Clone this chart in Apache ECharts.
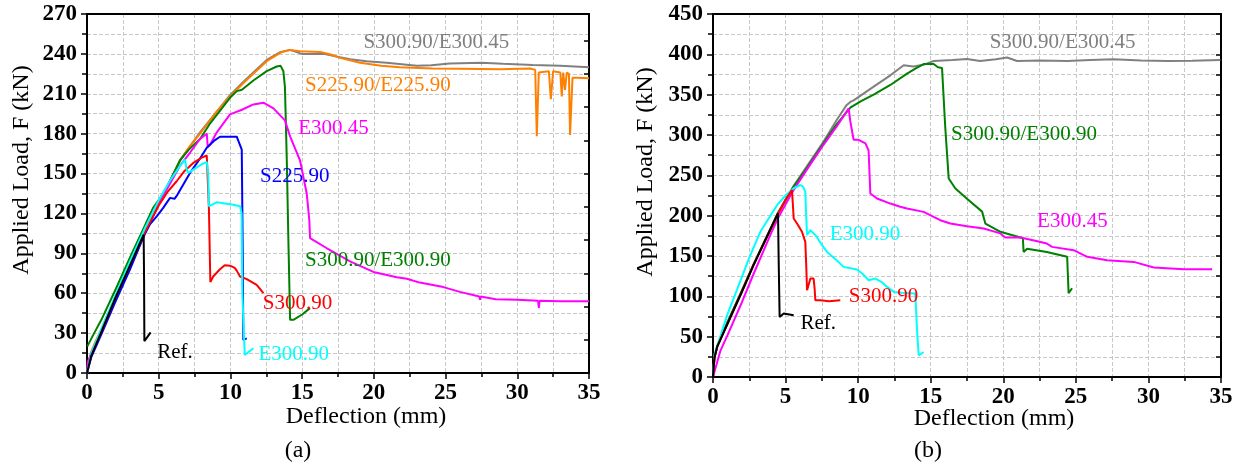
<!DOCTYPE html>
<html>
<head>
<meta charset="utf-8">
<script src="https://cdn.jsdelivr.net/npm/echarts@6/dist/echarts.min.js"></script>
<style>
html,body{margin:0;padding:0;background:#fff;}
#c{width:1242px;height:468px;}
</style>
</head>
<body>
<div id="c"></div>
<script>
// ---------- DATA: chart (a) ----------
var xTicks = [0, 5, 10, 15, 20, 25, 30, 35];
var aYTicks = [0, 30, 60, 90, 120, 150, 180, 210, 240, 270];
var bYTicks = [0, 50, 100, 150, 200, 250, 300, 350, 400, 450];

var aGray = [[0,0],[0.1,6],[0.3,14],[0.6,22],[1,31],[2,56],[3,80],[4,104],[5,127],[6.49,160],[7.88,181],[9.97,209],[11,220],[12.53,235.5],[13.5,241.5],[14.16,243],[14.97,240],[16.5,240],[17.64,237.5],[18.34,236],[19.5,234.5],[20.9,233.4],[22.99,231],[24,231.5],[25.3,232.7],[27.5,233.4],[29,232.5],[31.1,231.7],[33,231],[35,229.9]];
var aOrange = [[0,0],[0.1,8],[0.3,16],[0.6,24],[1,33],[2,58],[3,82],[4,106],[5,128],[5.5,138],[6.49,160],[7.2,171],[7.88,180],[9,196],[9.97,208],[11,219],[12.53,234.5],[13.5,241],[14.16,243],[14.85,242],[16.25,241.5],[17,239.5],[17.64,237],[19.04,233.4],[20.5,231],[21.8,230],[24.1,229],[26,228.8],[28.8,228.4],[30.9,229],[31.25,228],[31.36,178],[31.5,226],[32.2,227],[32.34,206],[32.5,227],[33,226],[33.1,208],[33.2,226],[33.33,213],[33.45,226],[33.6,225],[33.68,179],[33.85,222],[34.2,222],[35,221.6]];
var aGreen = [[0.02,20],[0.5,30],[1,40],[2,63],[3,87],[4,110],[4.6,124],[5,130],[5.5,138],[6.49,160],[7.1,168],[7.88,176],[8.6,188],[9.4,199],[9.97,207],[10.44,212],[10.8,213],[11.6,220],[12.53,227],[13.23,230.5],[13.5,231],[13.69,227],[13.8,215],[13.93,160],[14.04,100],[14.16,40],[14.39,40],[15,44],[15.55,48.8]];
var aMagenta = [[0,0],[0.05,8],[0.3,15],[1,31],[2,56],[3,80],[4,104],[4.86,124],[5.56,138],[6.49,156],[7.2,166],[7.88,176],[8.35,180],[8.42,170],[8.6,172],[9.05,181],[9.97,194.5],[10.8,198],[11.6,202],[12.3,203.3],[13,199],[13.8,190],[14.16,178],[14.85,160],[15.32,135],[15.5,115],[15.55,101.5],[16.7,94],[18.34,84],[19.97,76],[21.6,72],[22.3,70.9],[23.2,68],[24.85,64.6],[26,61],[27.35,57.5],[27.4,55],[27.45,57.5],[28.5,55.5],[29.97,55],[31.45,54.3],[31.5,49],[31.55,54.3],[33,54],[35,54]];
var aBlue = [[0,0],[0.3,12],[1,29],[2,54],[3,78],[4,104],[4.4,112],[4.86,117.8],[5.3,124],[5.79,131.7],[6.1,131],[6.3,134],[7.18,150.5],[7.8,160],[8.35,169.4],[8.9,175],[9.27,177.7],[10.44,177.7],[10.79,168],[10.85,100],[10.9,24.9],[11.14,26]];
var aRed = [[0,0],[0.3,14],[1,31],[2,57],[3,81],[4,105],[5,126],[5.6,136],[6.25,144.2],[6.8,152],[7.41,158],[8,162],[8.35,163.6],[8.45,163],[8.5,124],[8.6,68.4],[8.8,72.6],[9.27,78],[9.6,81],[9.97,80.7],[10.3,79],[10.44,77],[10.67,72.6],[11.14,70.6],[11.83,66.3],[12.3,60.1]];
var aCyan = [[0,0],[0.3,15],[1,33],[2,59],[3,84],[4,108],[5,130],[5.8,145],[6.5,156],[6.83,160.5],[6.95,153],[7.06,150.5],[7.41,153],[8,157],[8.35,158.8],[8.45,150],[8.5,125.4],[9.04,128.4],[10.2,126.6],[10.67,125.4],[10.78,120],[10.83,60],[11,13.6],[11.6,18.6]];
var aRef = [[0,0],[0.3,13],[1,31],[2,57],[3,81],[3.95,104],[3.98,70],[4,24],[4.44,30.5]];

// ---------- DATA: chart (b) ----------
var bGray = [[0,0],[0.1,24],[0.3,38],[1,68],[2,108],[2.8,140],[4.48,204],[5.56,237],[6.5,262],[7.62,292],[8.5,318],[9.2,337],[9.46,341],[9.69,343],[11.07,360],[12.22,374],[13.14,386.5],[13.8,385],[14.5,387],[15.2,391.7],[16.5,393],[17.5,394.2],[18.4,391.7],[19.5,394],[20.26,396],[20.95,391.7],[22.5,392.5],[24.4,391.7],[26,393],[27.6,393.8],[29.5,392.5],[31.3,391.7],[33,392],[34.96,392.9]];
var bGreen = [[0,0],[0.1,25],[0.3,39],[1,68],[2,107],[2.8,140],[4.48,203],[5.56,236],[6.5,260],[7.62,290],[8.5,313],[9.46,334],[10.2,342],[11.07,350],[12.22,362],[13.37,376],[14,383],[14.51,388],[15.2,388],[15.5,384],[15.78,383],[15.9,381],[16,310],[16.24,246],[16.7,233.7],[17.5,221],[18.54,205],[18.77,190],[19.8,180],[21.18,173],[21.35,172],[21.4,155],[21.64,159],[23,155],[24.4,149],[24.5,104],[24.74,110]];
var bMagenta = [[0,0],[0.5,32],[1,52],[2,93],[2.8,128],[4,178],[4.48,197],[5.56,232],[6.5,258],[7.5,285],[8.5,310],[9.35,333],[9.45,318],[9.69,294],[10.03,294],[10.5,289.6],[10.72,281],[10.84,227.5],[11.3,221.3],[12.22,215],[12.9,211],[13.37,209],[14.51,204.7],[15.2,198.5],[15.66,194.4],[16.35,190.3],[17.5,187],[18.65,184],[19.8,178],[20.14,173],[21.18,173],[22.2,169],[23,165.5],[23.36,161.3],[24.85,157.2],[25.78,149],[27.15,144.8],[28.99,142.7],[30.37,135.7],[32.43,133.6],[34.39,133.6]];
var bCyan = [[0,0],[0.1,28],[0.5,50],[1,78],[1.65,108],[2.5,148],[3.26,180],[4.41,213],[5,225],[5.56,234],[6.02,238],[6.2,236],[6.36,229.5],[6.42,200],[6.48,176],[6.71,182],[7.1,175],[7.51,163.4],[7.86,155],[8.5,145],[9,136.5],[9.92,133.2],[10.3,128],[10.72,120],[11.19,122],[11.6,118],[11.99,111.7],[12.45,105.5],[13,104.5],[13.94,103.5],[14.05,60],[14.17,26.9],[14.51,31]];
var bRed = [[0,0],[0.1,24],[0.3,38],[1,66],[2,106],[2.8,139],[4.48,202],[5,220],[5.44,231.6],[5.5,215],[5.56,196.5],[5.79,190.3],[6.13,180],[6.36,167.5],[6.42,140],[6.48,107.6],[6.71,122],[6.93,122],[7,110],[7.05,95.2],[7.39,95.2],[8,94],[8.77,95]];
var bRef = [[0,0],[0.1,24],[0.3,38],[1,66],[2,106],[2.8,139],[4.48,203],[4.52,150],[4.59,74.4],[4.87,78.6],[5.56,76.5]];

// curve labels: [text, x, y (data coords, left edge / vertical middle), colour key]
var aLabels = [["S300.90/E300.45",19.27,248.5,"gray"],["S225.90/E225.90",15.2,216.3,"orange"],["E300.45",14.73,183.7,"magenta"],["S225.90",12.06,148,"blue"],["S300.90/E300.90",15.2,84.4,"green"],["S300.90",12.25,52,"red"],["E300.90",11.95,14.3,"cyan"],["Ref.",4.9,15.6,"black"]];
var bLabels = [["S300.90/E300.45",19.06,414.4,"gray"],["S300.90/E300.90",16.4,300.7,"green"],["E300.45",22.33,192.3,"magenta"],["E300.90",8.04,177,"cyan"],["S300.90",9.35,99.3,"red"],["Ref.",6.02,66.3,"black"]];

var COL = {gray:"#808080", orange:"#FF8000", green:"#008000", magenta:"#FF00FF", blue:"#0000FF", red:"#FF0000", cyan:"#00FFFF", black:"#000000"};
var SERIF = "'Liberation Serif','Times New Roman',serif";

var chart = echarts.init(document.getElementById('c'), null, {renderer:'canvas'});

function mainX(gi){
  return {gridIndex:gi, type:'value', min:0, max:35, interval:5, position:'bottom',
    axisLine:{show:true, onZero:false, lineStyle:{color:'#000', width:2}},
    axisTick:{show:true, inside:false, length:6, lineStyle:{color:'#000', width:1.5}},
    minorTick:{show:true, splitNumber:2, length:4, lineStyle:{color:'#000', width:1.5}},
    axisLabel:{show:true, margin:9, color:'#000', fontFamily:SERIF, fontWeight:'bold', fontSize:23},
    splitLine:{show:true, lineStyle:{color:'#c8c8c8', type:[4,2], width:1}},
    minorSplitLine:{show:true, lineStyle:{color:'#c8c8c8', type:[4,2], width:1}}
  };
}
function topX(gi){
  return {gridIndex:gi, type:'value', min:0, max:35, interval:5, position:'top',
    axisLine:{show:true, onZero:false, lineStyle:{color:'#000', width:2}},
    axisTick:{show:false}, axisLabel:{show:false}, splitLine:{show:false}};
}
function mainY(gi, max, iv){
  return {gridIndex:gi, type:'value', min:0, max:max, interval:iv, position:'left',
    axisLine:{show:true, onZero:false, lineStyle:{color:'#000', width:2}},
    axisTick:{show:true, inside:false, length:6, lineStyle:{color:'#000', width:1.5}},
    minorTick:{show:true, splitNumber:2, length:5, lineStyle:{color:'#000', width:1.5}},
    axisLabel:{show:true, margin:10, color:'#000', fontFamily:SERIF, fontWeight:'bold', fontSize:23},
    splitLine:{show:true, lineStyle:{color:'#c8c8c8', type:[4,2], width:1}},
    minorSplitLine:{show:true, lineStyle:{color:'#c8c8c8', type:[4,2], width:1}}
  };
}
function rightY(gi, max, iv, minor){
  return {gridIndex:gi, type:'value', min:0, max:max, interval:iv, position:'right',
    axisLine:{show:true, onZero:false, lineStyle:{color:'#000', width:2}},
    axisTick:{show:true, inside:true, length:5, lineStyle:{color:'#000', width:1.5}},
    minorTick:{show:minor, splitNumber:2, length:5, lineStyle:{color:'#000', width:1.5}},
    axisLabel:{show:false}, splitLine:{show:false}, minorSplitLine:{show:false}};
}
function ser(data, col, xi, yi){
  return {type:'line', data:data, xAxisIndex:xi, yAxisIndex:yi, showSymbol:false, symbol:'none',
    lineStyle:{color:COL[col], width:2}, itemStyle:{color:COL[col]}, animation:false, silent:true, z:3};
}

chart.setOption({
  animation:false,
  backgroundColor:'#fff',
  grid:[
    {left:87, top:14, width:502, height:359, containLabel:false},
    {left:713, top:14, width:508, height:363, containLabel:false}
  ],
  xAxis:[mainX(0), topX(0), mainX(1), topX(1)],
  yAxis:[mainY(0,270,30), rightY(0,270,25,false), mainY(1,450,50), rightY(1,450,50,true)],
  series:[
    ser(aGray,'gray',0,0), ser(aOrange,'orange',0,0), ser(aGreen,'green',0,0), ser(aMagenta,'magenta',0,0),
    ser(aBlue,'blue',0,0), ser(aRed,'red',0,0), ser(aCyan,'cyan',0,0), ser(aRef,'black',0,0),
    ser(bGray,'gray',2,2), ser(bGreen,'green',2,2), ser(bMagenta,'magenta',2,2), ser(bCyan,'cyan',2,2),
    ser(bRed,'red',2,2), ser(bRef,'black',2,2)
  ]
});

var g = [];
function addLabels(list, xi, yi){
  list.forEach(function(l){
    var p = chart.convertToPixel({xAxisIndex:xi, yAxisIndex:yi}, [l[1], l[2]]);
    g.push({type:'text', x:p[0], y:p[1], z:10, silent:true,
      style:{text:l[0], fill:COL[l[3]], font:'21px '+SERIF, textAlign:'left', textVerticalAlign:'middle'}});
  });
}
addLabels(aLabels, 0, 0);
addLabels(bLabels, 2, 2);

function title(t, x, y, rot){
  g.push({type:'text', x:x, y:y, rotation:rot||0, z:10, silent:true,
    style:{text:t, fill:'#000', font:'24px '+SERIF, textAlign:'center', textVerticalAlign:'middle'}});
}
title('Applied Load, F (kN)', 22, 170, Math.PI/2);
title('Applied Load, F (kN)', 646, 172, Math.PI/2);
title('Deflection (mm)', 366, 417);
title('Deflection (mm)', 994, 419);
title('(a)', 298, 451);
title('(b)', 928, 451);

chart.setOption({graphic:g});
</script>
</body>
</html>
